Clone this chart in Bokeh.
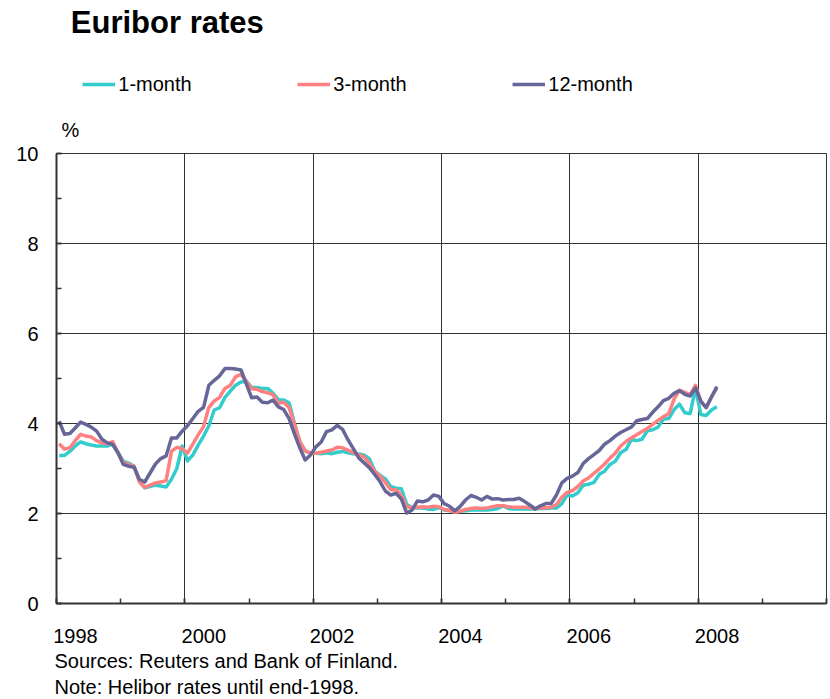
from bokeh.plotting import figure
from bokeh.layouts import column
from bokeh.models import (Range1d, SingleIntervalTicker, Legend, LegendItem,
                          CustomJSTickFormatter)
from bokeh.embed import file_html
from bokeh.resources import INLINE
from bokeh.core.properties import value

# ---------------- data (monthly averages, Jan 1998 - Apr 2008, %) ----------------
start_year = 1998

one_month = [
    3.29, 3.29, 3.38, 3.50, 3.59, 3.55, 3.52, 3.50, 3.50, 3.50, 3.54, 3.35,   # 1998
    3.16, 3.12, 3.05, 2.72, 2.57, 2.60, 2.63, 2.61, 2.59, 2.76, 3.00, 3.50,   # 1999
    3.17, 3.30, 3.52, 3.72, 3.95, 4.30, 4.35, 4.58, 4.72, 4.85, 4.92, 4.94,   # 2000
    4.80, 4.80, 4.78, 4.78, 4.67, 4.53, 4.52, 4.46, 4.00, 3.60, 3.39, 3.34,   # 2001
    3.34, 3.33, 3.35, 3.33, 3.36, 3.38, 3.35, 3.33, 3.32, 3.30, 3.22, 2.95,   # 2002
    2.85, 2.77, 2.60, 2.56, 2.55, 2.20, 2.13, 2.12, 2.12, 2.10, 2.09, 2.13,   # 2003
    2.08, 2.06, 2.04, 2.05, 2.06, 2.08, 2.08, 2.08, 2.08, 2.09, 2.11, 2.17,   # 2004
    2.11, 2.10, 2.10, 2.10, 2.10, 2.10, 2.11, 2.11, 2.12, 2.12, 2.22, 2.41,   # 2005
    2.39, 2.46, 2.63, 2.65, 2.69, 2.87, 2.94, 3.09, 3.16, 3.35, 3.42, 3.64,   # 2006
    3.62, 3.65, 3.84, 3.86, 3.92, 4.10, 4.11, 4.31, 4.43, 4.24, 4.22, 4.78,   # 2007
    4.20, 4.18, 4.30, 4.37,                                                   # 2008
]

three_month = [
    3.55, 3.43, 3.46, 3.62, 3.76, 3.72, 3.70, 3.62, 3.57, 3.55, 3.60, 3.35,   # 1998
    3.13, 3.09, 3.05, 2.70, 2.58, 2.63, 2.68, 2.70, 2.73, 3.38, 3.47, 3.44,   # 1999
    3.34, 3.54, 3.75, 3.93, 4.36, 4.50, 4.58, 4.78, 4.85, 5.04, 5.09, 4.94,   # 2000
    4.77, 4.76, 4.71, 4.68, 4.64, 4.45, 4.47, 4.35, 3.98, 3.60, 3.39, 3.34,   # 2001
    3.34, 3.36, 3.39, 3.41, 3.47, 3.46, 3.41, 3.35, 3.31, 3.26, 3.12, 2.94,   # 2002
    2.83, 2.69, 2.53, 2.53, 2.40, 2.15, 2.13, 2.14, 2.15, 2.14, 2.16, 2.15,   # 2003
    2.09, 2.07, 2.03, 2.05, 2.09, 2.11, 2.12, 2.11, 2.12, 2.15, 2.17, 2.17,   # 2004
    2.15, 2.14, 2.14, 2.14, 2.13, 2.11, 2.12, 2.13, 2.14, 2.20, 2.36, 2.47,   # 2005
    2.51, 2.60, 2.72, 2.79, 2.89, 2.99, 3.10, 3.23, 3.34, 3.50, 3.60, 3.68,   # 2006
    3.75, 3.82, 3.89, 3.98, 4.07, 4.15, 4.22, 4.54, 4.74, 4.69, 4.64, 4.85,   # 2007
    4.48, 4.36, 4.60, 4.78,                                                   # 2008
]

twelve_month = [
    4.05, 3.76, 3.78, 3.90, 4.03, 3.98, 3.92, 3.83, 3.65, 3.57, 3.54, 3.35,   # 1998
    3.09, 3.05, 3.03, 2.76, 2.70, 2.90, 3.10, 3.22, 3.28, 3.68, 3.68, 3.83,   # 1999
    3.95, 4.11, 4.27, 4.36, 4.85, 4.96, 5.06, 5.22, 5.22, 5.21, 5.19, 4.88,   # 2000
    4.57, 4.59, 4.47, 4.46, 4.52, 4.37, 4.31, 4.11, 3.77, 3.46, 3.19, 3.30,   # 2001
    3.48, 3.59, 3.82, 3.86, 3.96, 3.87, 3.64, 3.44, 3.24, 3.13, 3.02, 2.87,   # 2002
    2.71, 2.50, 2.41, 2.45, 2.32, 2.01, 2.08, 2.28, 2.26, 2.30, 2.41, 2.38,   # 2003
    2.22, 2.16, 2.06, 2.16, 2.30, 2.40, 2.36, 2.30, 2.38, 2.32, 2.33, 2.30,   # 2004
    2.31, 2.31, 2.34, 2.27, 2.19, 2.10, 2.17, 2.22, 2.22, 2.41, 2.68, 2.78,   # 2005
    2.83, 2.91, 3.11, 3.22, 3.31, 3.40, 3.54, 3.62, 3.72, 3.80, 3.86, 3.92,   # 2006
    4.06, 4.09, 4.11, 4.25, 4.37, 4.51, 4.56, 4.67, 4.73, 4.65, 4.61, 4.79,   # 2007
    4.50, 4.35, 4.59, 4.82,                                                   # 2008
]

series_names = ["1-month", "3-month", "12-month"]
series_values = [one_month, three_month, twelve_month]
series_colors = ["#33CCCC", "#FF8080", "#666699"]
x_tick_years = [1998, 2000, 2002, 2004, 2006, 2008]

title_text = "Euribor rates"
unit_text = "%"
source_text = "Sources: Reuters and Bank of Finland."
note_text = "Note: Helibor rates until end-1998."

# monthly points placed mid-month
months_x = [start_year + (i + 0.5) / 12 for i in range(len(one_month))]

# ---------------- layout constants (pixels) ----------------
PAGE_W = 830
FONT = "Liberation Sans"
INK = "#000000"
AXIS = "#333333"
X0, X1 = 1998, 2010
Y0, Y1 = 0, 10
FL, FR = 56, 4            # frame borders left / right of the main chart
FW, FH = PAGE_W - FL - FR, 450
TOP_H = 141               # header strip (title, legend, unit)
MID_TOP, MID_BOT = 12, 14
BOT_H = 81                # footer strip (tick labels, notes)
PPY = FW / (X1 - X0)      # pixels per year
TITLE_PX, TEXT_PX = 31, 20
# text y below is given at the middle of the capital height of each line
HALF_CAP = 0.358


def no_align(fig):
    try:
        fig.frame_align = False
    except Exception:
        pass


# ---------------- header ----------------
top = figure(width=PAGE_W, height=TOP_H, x_range=Range1d(0, PAGE_W), y_range=Range1d(TOP_H, 0),
             x_axis_type=None, y_axis_type=None, output_backend="svg", toolbar_location=None,
             min_border=0, min_border_left=0, min_border_right=0, min_border_top=0,
             min_border_bottom=0)
no_align(top)
top.title.visible = False
top.outline_line_color = None
top.grid.visible = False

top.text(x=[70.3], y=[33.3 - HALF_CAP * TITLE_PX], text=[title_text], text_font=value(FONT),
         text_font_size=value(f"{TITLE_PX}px"), text_font_style="bold", text_color=INK,
         text_align="left", text_baseline="alphabetic")
top.text(x=[61], y=[136.6 - HALF_CAP * TEXT_PX], text=[unit_text], text_font=value(FONT),
         text_font_size=value(f"{TEXT_PX}px"), text_color=INK,
         text_align="left", text_baseline="alphabetic")

# legend keys (single off-screen point each, only used for the legend swatch)
key_renderers = [top.line(x=[-100], y=[-100], line_color=c, line_width=3.5) for c in series_colors]
legend = Legend(items=[LegendItem(label=n, renderers=[r]) for n, r in zip(series_names, key_renderers)],
                orientation="horizontal", location=(82.3, TOP_H - 95.7),
                glyph_width=33, glyph_height=20, label_standoff=3,
                label_width=179, label_height=20, spacing=0, padding=0, margin=0,
                border_line_alpha=0, background_fill_alpha=0,
                label_text_font=FONT, label_text_font_size=f"{TEXT_PX}px", label_text_color=INK)
top.add_layout(legend)

# ---------------- main chart ----------------
p = figure(frame_width=FW, frame_height=FH, x_range=Range1d(X0, X1), y_range=Range1d(Y0, Y1),
           output_backend="svg", toolbar_location=None,
           min_border_left=FL, min_border_right=FR, min_border_top=MID_TOP,
           min_border_bottom=MID_BOT)
no_align(p)
p.title.visible = False
p.outline_line_color = AXIS
p.outline_line_width = 1

for ax in (p.xaxis[0], p.yaxis[0]):
    ax.ticker = SingleIntervalTicker(interval=2, num_minor_ticks=2)
    ax.axis_line_color = AXIS
    ax.axis_line_width = 2
    ax.major_tick_in = 5
    ax.major_tick_out = 0
    ax.major_tick_line_color = AXIS
    ax.major_tick_line_width = 1.5
    ax.minor_tick_in = 5
    ax.minor_tick_out = 0
    ax.minor_tick_line_color = AXIS
    ax.minor_tick_line_width = 1.5

p.yaxis.major_label_standoff = 18
p.yaxis.major_label_text_font = FONT
p.yaxis.major_label_text_font_size = f"{TEXT_PX}px"
p.yaxis.major_label_text_color = INK
# x tick labels are set left-aligned in the footer strip
p.xaxis.formatter = CustomJSTickFormatter(code="return ''")
p.xaxis.major_label_text_font_size = "1px"
p.xaxis.major_label_standoff = 0

p.grid.grid_line_color = AXIS
p.grid.grid_line_width = 1

for vals, col in zip(series_values, series_colors):
    p.line(months_x, vals, line_color=col, line_width=3.5, line_join="round")

# ---------------- footer ----------------
bot = figure(width=PAGE_W, height=BOT_H,
             x_range=Range1d(X0 - FL / PPY, X1 + FR / PPY), y_range=Range1d(BOT_H, 0),
             x_axis_type=None, y_axis_type=None, output_backend="svg", toolbar_location=None,
             min_border=0, min_border_left=0, min_border_right=0, min_border_top=0,
             min_border_bottom=0)
no_align(bot)
bot.title.visible = False
bot.outline_line_color = None
bot.grid.visible = False

bot.text(x=x_tick_years, y=[25.5 - HALF_CAP * TEXT_PX] * len(x_tick_years),
         text=[str(v) for v in x_tick_years],
         x_offset=-3.3, text_font=value(FONT), text_font_size=value(f"{TEXT_PX}px"),
         text_color=INK, text_align="left", text_baseline="alphabetic")
note_x = X0 + (54 - FL) / PPY
bot.text(x=[note_x, note_x], y=[50.3 - HALF_CAP * TEXT_PX, 76.3 - HALF_CAP * TEXT_PX],
         text=[source_text, note_text],
         text_font=value(FONT), text_font_size=value(f"{TEXT_PX}px"), text_color=INK,
         text_align="left", text_baseline="alphabetic")

layout = column(top, p, bot, spacing=0)
open("out.html", "w").write(file_html(layout, INLINE))
